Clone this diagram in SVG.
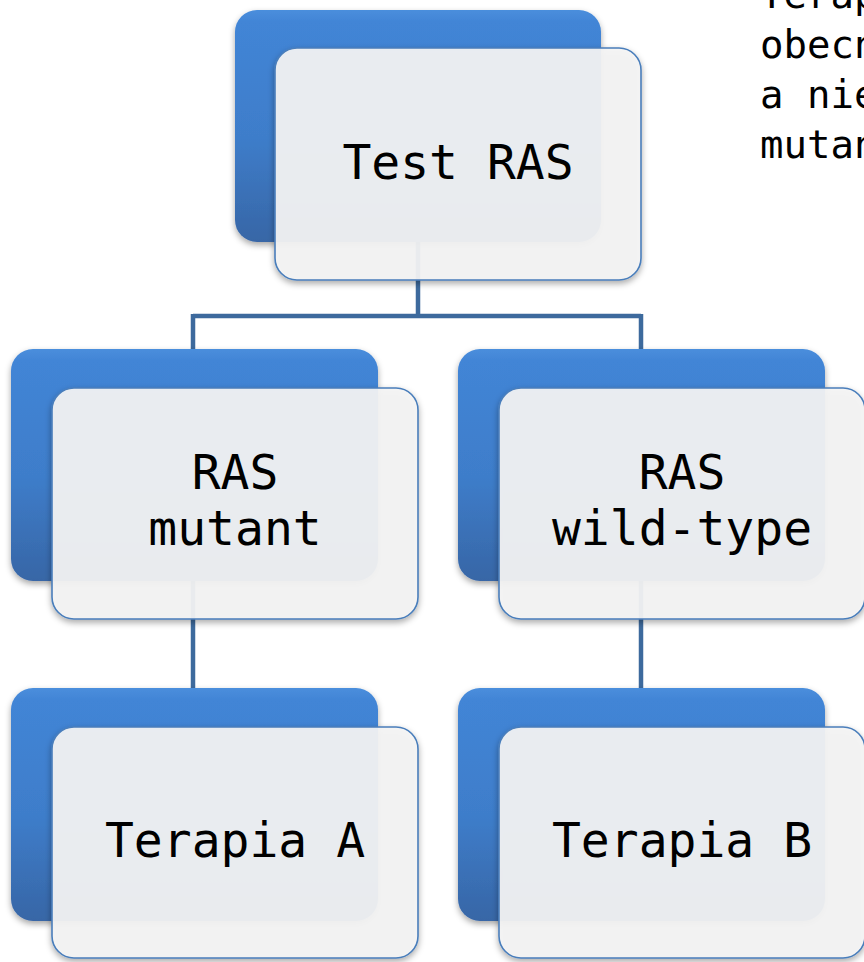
<svg xmlns="http://www.w3.org/2000/svg" width="864" height="962" viewBox="0 0 864 962">
<defs>
<linearGradient id="blueGrad" x1="0" y1="0" x2="0" y2="1">
<stop offset="0" stop-color="#4a8edc"/>
<stop offset="0.05" stop-color="#4285d6"/>
<stop offset="0.55" stop-color="#3e7dca"/>
<stop offset="1" stop-color="#3766a6"/>
</linearGradient>
<filter id="shadow" x="-10%" y="-10%" width="125%" height="125%">
<feDropShadow dx="0" dy="3" stdDeviation="3" flood-color="#000" flood-opacity="0.35"/>
</filter>
</defs>
<style>
.back{fill:url(#blueGrad);filter:url(#shadow)}
.front{fill:#f4f4f4;fill-opacity:0.93;stroke:#4a7ebb;stroke-width:1.6;filter:url(#shadow)}
.conn{fill:none;stroke:#3d6a9d;stroke-width:4.5}
.lbl{font-family:"DejaVu Sans Mono","Liberation Mono",monospace;font-size:48px;fill:#000;text-anchor:middle}
.note{font-family:"DejaVu Sans Mono","Liberation Mono",monospace;font-size:39px;fill:#000}
</style>
<rect width="864" height="962" fill="#fff"/>
<g id="note">
<text class="note" x="760" y="8">Terap</text>
<text class="note" x="760" y="58">obecn</text>
<text class="note" x="760" y="108">a nie</text>
<text class="note" x="760" y="158">mutan</text>
</g>
<g id="connectors">
<path class="conn" d="M418 240 V316 M193 316 H641 M193 314 V352 M641 314 V352"/>
<path class="conn" d="M193 580 V690"/>
<path class="conn" d="M641 580 V690"/>
</g>
<g id="node-test">
<rect class="back" x="235" y="10" width="366" height="232" rx="22"/>
<rect class="front" x="275" y="48" width="366" height="232" rx="22"/>
<text class="lbl" x="458" y="179">Test RAS</text>
</g>
<g id="node-mutant">
<rect class="back" x="11" y="349" width="367" height="232" rx="22"/>
<rect class="front" x="52" y="388" width="366" height="231" rx="22"/>
<text class="lbl" x="235" y="489">RAS</text>
<text class="lbl" x="235" y="545">mutant</text>
</g>
<g id="node-wildtype">
<rect class="back" x="458" y="349" width="367" height="232" rx="22"/>
<rect class="front" x="499" y="388" width="366" height="231" rx="22"/>
<text class="lbl" x="682" y="489">RAS</text>
<text class="lbl" x="682" y="545">wild-type</text>
</g>
<g id="node-terapiaA">
<rect class="back" x="11" y="688" width="367" height="233" rx="22"/>
<rect class="front" x="52" y="727" width="366" height="231" rx="22"/>
<text class="lbl" x="235" y="857">Terapia A</text>
</g>
<g id="node-terapiaB">
<rect class="back" x="458" y="688" width="367" height="233" rx="22"/>
<rect class="front" x="499" y="727" width="366" height="231" rx="22"/>
<text class="lbl" x="682" y="857">Terapia B</text>
</g>
</svg>
